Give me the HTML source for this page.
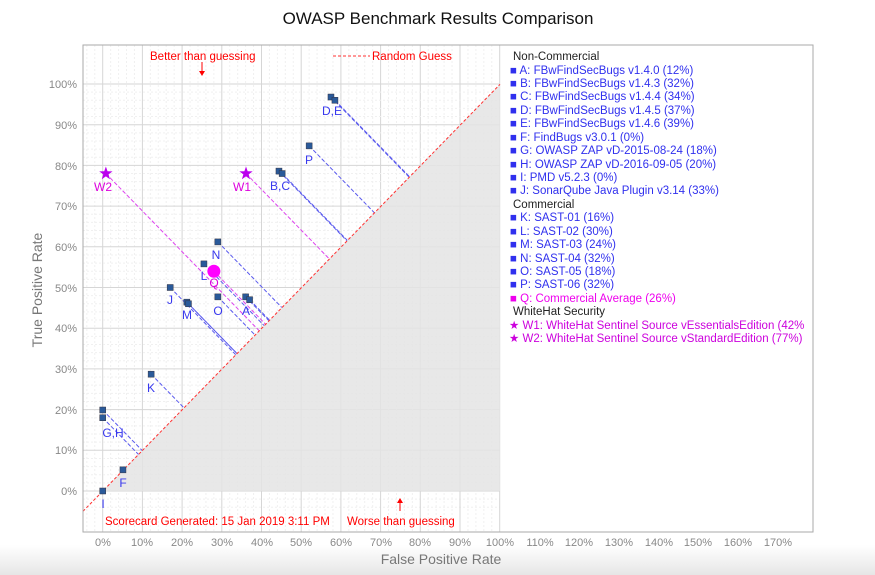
<!DOCTYPE html>
<html><head><meta charset="utf-8"><style>
body{margin:0;width:875px;height:575px;overflow:hidden;background:#fff;font-family:"Liberation Sans",sans-serif}
#bg{position:absolute;left:0;top:545px;width:875px;height:30px;background:linear-gradient(#fff,#e6e6e6)}
svg{position:absolute;left:0;top:0}
</style></head><body>
<div id="bg"></div>
<svg id="s" width="875" height="575" xmlns="http://www.w3.org/2000/svg" font-family="Liberation Sans, sans-serif">
<g id="grid"></g>
<polygon points="102.7,491 500,84.3 500,491" fill="#e4e4e4" opacity="0.85"/>
<g id="lines"></g>
<line x1="82.9" y1="511.4" x2="500" y2="84.3" stroke="#ff3030" stroke-width="1" stroke-dasharray="3,2"/>
<rect x="83" y="45" width="730" height="487" fill="none" stroke="#aaa" stroke-width="1"/>
<g id="marks"></g>
<text x="438" y="24" font-size="17" text-anchor="middle" fill="#111">OWASP Benchmark Results Comparison</text>
<g font-size="11.5" fill="#ff0000">
<text x="150" y="60">Better than guessing</text>
<text x="372" y="60">Random Guess</text>
<text x="105" y="525">Scorecard Generated: 15 Jan 2019  3:11 PM</text>
<text x="347" y="525">Worse than guessing</text>
</g>
<line x1="333" y1="56" x2="370" y2="56" stroke="#ff3030" stroke-dasharray="3,2"/>
<line x1="202" y1="62" x2="202" y2="72" stroke="red"/><polygon points="199,71 205,71 202,76" fill="red"/>
<line x1="400" y1="502" x2="400" y2="511" stroke="red"/><polygon points="397,503 403,503 400,498" fill="red"/>
<g font-size="11" fill="#888" text-anchor="end">
<text x="77" y="495">0%</text><text x="77" y="454">10%</text><text x="77" y="414">20%</text><text x="77" y="373">30%</text><text x="77" y="332">40%</text><text x="77" y="292">50%</text><text x="77" y="251">60%</text><text x="77" y="210">70%</text><text x="77" y="170">80%</text><text x="77" y="129">90%</text><text x="77" y="88">100%</text>
</g>
<g font-size="11" fill="#888" text-anchor="middle">
<text x="103" y="546">0%</text><text x="142" y="546">10%</text><text x="182" y="546">20%</text><text x="222" y="546">30%</text><text x="262" y="546">40%</text><text x="301" y="546">50%</text><text x="341" y="546">60%</text><text x="381" y="546">70%</text><text x="420" y="546">80%</text><text x="460" y="546">90%</text><text x="500" y="546">100%</text><text x="540" y="546">110%</text><text x="579" y="546">120%</text><text x="619" y="546">130%</text><text x="659" y="546">140%</text><text x="698" y="546">150%</text><text x="738" y="546">160%</text><text x="778" y="546">170%</text>
</g>
<text x="441" y="564" font-size="14" fill="#777" text-anchor="middle">False Positive Rate</text>
<text transform="translate(42,290) rotate(-90)" font-size="14" fill="#777" text-anchor="middle">True Positive Rate</text>
<g font-size="12" fill="#3838ee" text-anchor="middle">
<text x="332" y="115">D,E</text><text x="309" y="164">P</text><text x="280" y="190">B,C</text>
<text x="216" y="259">N</text><text x="204" y="280">L</text><text x="170" y="304">J</text>
<text x="187" y="319">M</text><text x="218" y="315">O</text><text x="246" y="315">A</text>
<text x="151" y="392">K</text><text x="113" y="437">G,H</text><text x="123" y="487">F</text><text x="103" y="508">I</text>
</g>
<g font-size="12" fill="#dd00dd" text-anchor="middle">
<text x="242" y="191">W1</text><text x="103" y="191">W2</text><text x="214" y="287">Q</text>
</g>
<g font-size="11.5">
<text x="513" y="60" fill="#222">Non-Commercial</text>
<g fill="#3030ee">
<text x="510" y="74">■ A: FBwFindSecBugs v1.4.0 (12%)</text>
<text x="510" y="87">■ B: FBwFindSecBugs v1.4.3 (32%)</text>
<text x="510" y="100">■ C: FBwFindSecBugs v1.4.4 (34%)</text>
<text x="510" y="114">■ D: FBwFindSecBugs v1.4.5 (37%)</text>
<text x="510" y="127">■ E: FBwFindSecBugs v1.4.6 (39%)</text>
<text x="510" y="141">■ F: FindBugs v3.0.1 (0%)</text>
<text x="510" y="154">■ G: OWASP ZAP vD-2015-08-24 (18%)</text>
<text x="510" y="168">■ H: OWASP ZAP vD-2016-09-05 (20%)</text>
<text x="510" y="181">■ I:  PMD v5.2.3 (0%)</text>
<text x="510" y="194">■ J: SonarQube Java Plugin v3.14 (33%)</text>
</g>
<text x="513" y="208" fill="#222">Commercial</text>
<g fill="#3030ee">
<text x="510" y="221">■ K: SAST-01 (16%)</text>
<text x="510" y="235">■ L: SAST-02 (30%)</text>
<text x="510" y="248">■ M: SAST-03 (24%)</text>
<text x="510" y="262">■ N: SAST-04 (32%)</text>
<text x="510" y="275">■ O: SAST-05 (18%)</text>
<text x="510" y="288">■ P: SAST-06 (32%)</text>
</g>
<text x="510" y="302" fill="#ee00ee">■ Q: Commercial Average (26%)</text>
<text x="513" y="315" fill="#222">WhiteHat Security</text>
<text x="509" y="329" fill="#cc00dd">★ W1: WhiteHat Sentinel Source vEssentialsEdition (42%</text>
<text x="509" y="342" fill="#cc00dd">★ W2:  WhiteHat Sentinel Source vStandardEdition (77%)</text>
</g>
</svg>
<script>
var NS="http://www.w3.org/2000/svg";
function X(f){return 102.7+3.97*f}function Y(t){return 491-4.07*t}
function el(p,n,a){var e=document.createElementNS(NS,n);for(var k in a)e.setAttribute(k,a[k]);document.getElementById(p).appendChild(e);return e}
for(var v=-4;v<=100;v+=2){var maj=v%10==0;
el("grid","line",{x1:X(v),y1:45,x2:X(v),y2:532,stroke:maj?"#d6d6d6":"#f0f0f0","stroke-dasharray":maj?"":"2,2"});
el("grid","line",{x1:83,y1:Y(v),x2:500,y2:Y(v),stroke:maj?"#d6d6d6":"#f0f0f0","stroke-dasharray":maj?"":"2,2"});}
var P=[[57.5,96.8],[58.5,96],[52,84.8],[44.4,78.6],[45.2,78],[29,61.2],[25.5,55.8],[17,50],[21.2,46.4],[21.6,46],[29,47.7],[36,47.7],[37,47],[12.2,28.7],[0,19.9],[0,18],[5.1,5.2],[0,0]];
P.forEach(function(p){var m=(p[0]+p[1])/2;el("lines","line",{x1:X(p[0]),y1:Y(p[1]),x2:X(m),y2:Y(m),stroke:"#5a5aee","stroke-dasharray":"4,2"});});
[[36.1,78],[0.8,78],[28,54]].forEach(function(p){var m=(p[0]+p[1])/2;el("lines","line",{x1:X(p[0]),y1:Y(p[1]),x2:X(m),y2:Y(m),stroke:"#dd44ee","stroke-dasharray":"4,2"});});
P.forEach(function(p){el("marks","rect",{x:X(p[0])-3,y:Y(p[1])-3,width:6,height:6,fill:"#2a5a9a",stroke:"#334","stroke-width":0.5});});
el("marks","circle",{cx:X(28),cy:Y(54),r:6.5,fill:"#ff00ff"});
[[36.1,78],[0.8,78]].forEach(function(p){var cx=X(p[0]),cy=Y(p[1]),s="";for(var i=0;i<10;i++){var r=i%2?2.8:7,a=Math.PI/5*i-Math.PI/2;s+=(cx+r*Math.cos(a))+","+(cy+r*Math.sin(a))+" ";}el("marks","polygon",{points:s,fill:"#bb00ee"});});
</script>
</body></html>
